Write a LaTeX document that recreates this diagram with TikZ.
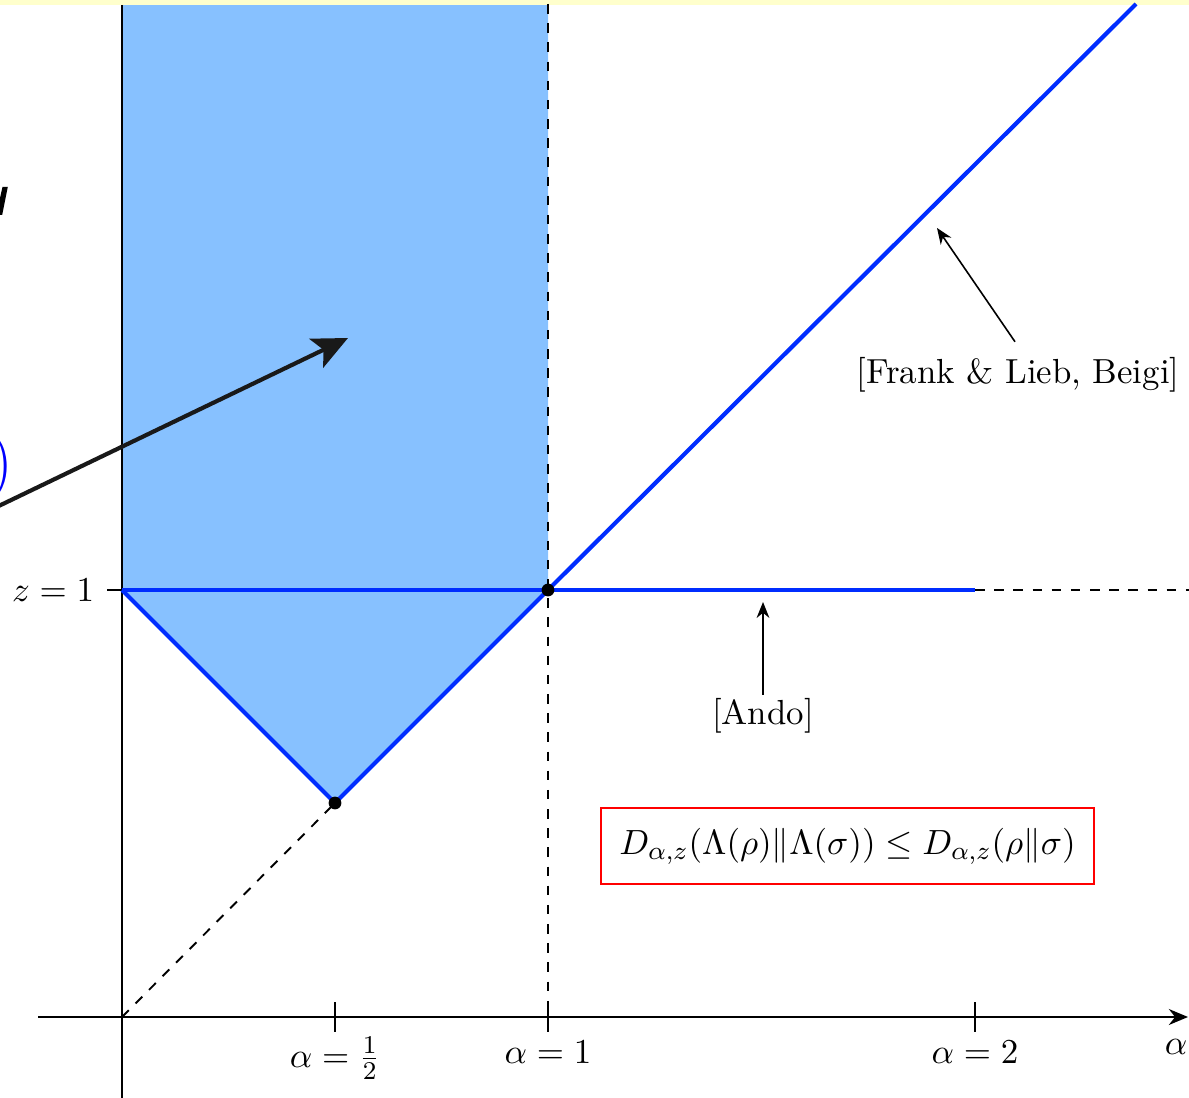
\documentclass[tikz,border=0pt]{standalone}
\usepackage{amsmath,amssymb}
\usetikzlibrary{arrows.meta}
\definecolor{fillblue}{RGB}{135,193,255}
\definecolor{lineblue}{RGB}{0,45,255}
\definecolor{bandyellow}{RGB}{255,255,204}
\definecolor{boxred}{RGB}{255,0,0}
\tikzset{
  curve/.style={lineblue,line width=1.3pt},
  axisline/.style={black,line width=0.6pt},
  guide/.style={black,dashed,line width=0.6pt,dash pattern=on 3pt off 3pt},
  tickline/.style={black,line width=0.4pt},
  dotnode/.style={circle,fill=black,inner sep=0pt,minimum size=4pt},
  lbl/.style={inner sep=1pt,font=\fontsize{10.9}{13}\selectfont},
  pointer/.style={black,line width=0.5pt,-{Stealth[length=5pt,width=4pt]}}
}
\begin{document}
\begin{tikzpicture}[x=0.011cm,y=-0.011cm]
\useasboundingbox (0,0) rectangle (1189,1098);
\clip (0,0) rectangle (1189,1098);
% coordinates
\coordinate (O) at (122,1017);
\coordinate (Z1) at (122,590);
\coordinate (A1) at (548,590);
\coordinate (H) at (335,803);
\coordinate (A2) at (975,590);
\coordinate (TopD) at (1136,4);
\coordinate (TopL) at (122,4);
\coordinate (TopR) at (548,4);
% shaded region
\fill[fillblue] (TopL) -- (TopR) -- (A1) -- (H) -- (Z1) -- cycle;
% top band
\fill[bandyellow] (0,0) rectangle (1189,5);
% dashed guides
\draw[guide] (TopR) -- (548,1017);
\draw[guide] (O) -- (H);
\draw[guide] (A2) -- (1189,590);
% axes
\coordinate (Xs) at (38,1017);
\coordinate (Xe) at (1188,1017);
\coordinate (Ys) at (122,5);
\coordinate (Ye) at (122,1098);
\draw[axisline] (Ys) -- (Ye);
\draw[axisline,-{Stealth[length=6pt,width=5pt]}] (Xs) -- (Xe);
% ticks
\draw[tickline] (335,1002) -- (335,1032);
\draw[tickline] (548,1002) -- (548,1032);
\draw[tickline] (975,1002) -- (975,1032);
\draw[tickline] (107,590) -- (137,590);
% curves
\draw[curve] (Z1) -- (A2);
\draw[curve,line join=round] (Z1) -- (H) -- (A1) -- (TopD);
% dots
\node[dotnode] (d1) at (A1) {};
\node[dotnode] (d2) at (H) {};
% labels
\node[lbl,anchor=east] (lz) at (98,590) {$z=1$};
\node[lbl] (la) at (335,1058) {$\alpha=\frac{1}{2}$};
\node[lbl] (lb) at (548,1052) {$\alpha=1$};
\node[lbl] (lc) at (975,1052) {$\alpha=2$};
\node[lbl] (lx) at (1176,1047) {$\alpha$};
% annotations
\node[lbl] (fl) at (1018,375) {[Frank \& Lieb, Beigi]};
\coordinate (flt) at (937,228);
\draw[pointer] (fl.north) ++(-3,-12) coordinate (fls) -- (flt);
\node[lbl] (an) at (763,716) {[Ando]};
\coordinate (ant) at (763,602);
\draw[pointer] (an.north) -- (ant);
% red box
\node[draw=boxred,line width=0.6pt,inner xsep=6pt,inner ysep=6pt,minimum width=5.42cm,minimum height=0.84cm,lbl] (rb) at (847.5,846)
  {$D_{\alpha,z}(\Lambda(\rho)\|\Lambda(\sigma))\leq D_{\alpha,z}(\rho\|\sigma)$};
% cropped fragments at left edge
\fill[black] (2.5,187) -- (7.8,187) -- (2.2,215) -- (0,215) -- (0,198) -- cycle;
\node[text=blue,anchor=east,inner sep=0pt,font=\fontsize{21}{22}\selectfont] (par) at (14,467) {)};
\coordinate (bs) at (-20,515);
\coordinate (be) at (348,338);
\draw[black!90,line width=1.3pt,-{Stealth[length=11pt,width=10pt,inset=2.5pt]}] (bs) -- (be);
\end{tikzpicture}
\end{document}
